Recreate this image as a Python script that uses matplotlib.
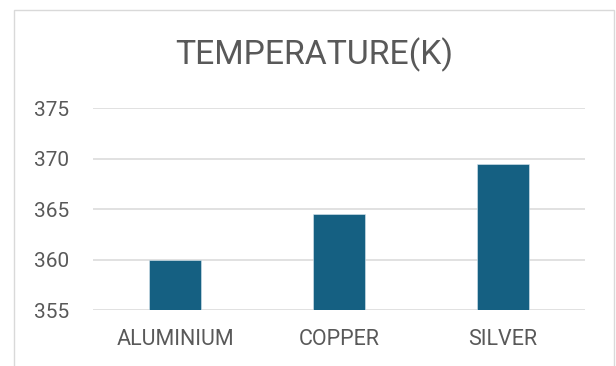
import matplotlib.pyplot as plt
from matplotlib.patches import Rectangle

# datos del grafico
metales = ['ALUMINIUM', 'COPPER', 'SILVER']
temperatura = [360, 364.5, 369.5]
ticks_y = [355, 360, 365, 370, 375]

plt.rcParams['font.family'] = ['Roboto', 'DejaVu Sans']
gris = '#595959'

fig = plt.figure(figsize=(6.16, 3.66), dpi=100)
ax = fig.add_axes([0.1510, 0.1530, 0.7987, 0.5519])

ax.bar(range(len(metales)), temperatura, width=0.315, color='#156082',
       edgecolor='#dbe8ef', linewidth=0.4, zorder=3)

ax.set_xlim(-0.5, len(metales) - 0.5)
ax.set_ylim(355, 375)
ax.set_yticks(ticks_y)
ax.set_xticks(range(len(metales)))
ax.set_xticklabels(metales)
ax.tick_params(axis='y', length=0, pad=17, labelsize=15, labelcolor=gris)
ax.tick_params(axis='x', length=0, pad=14, labelsize=15.5, labelcolor=gris)
ax.grid(axis='y', color='#d9d9d9', linewidth=1.1, zorder=0)
for s in ax.spines.values():
    s.set_visible(False)

fig.text(0.5097, 1 - 64 / 366, 'TEMPERATURE(K)', ha='center', va='baseline',
         fontsize=24.3, color=gris)

# marco del grafico
marco = Rectangle((13.5 / 616, -0.1), (614 - 13.5) / 616, 1.1 - 9.5 / 366,
                  transform=fig.transFigure, fill=False, edgecolor='#d9d9d9',
                  linewidth=1.0)
fig.patches.append(marco)

fig.savefig('out.png', dpi=100)
